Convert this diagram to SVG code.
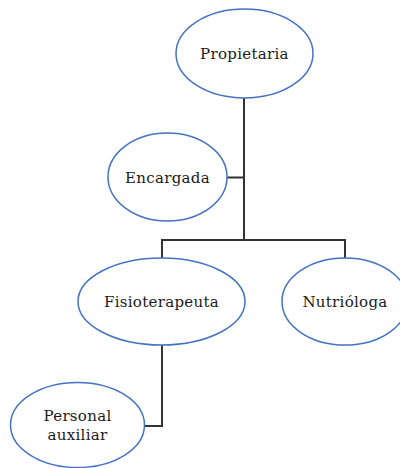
<svg xmlns="http://www.w3.org/2000/svg" width="400" height="468" viewBox="0 0 400 468">
<style>
.n{fill:#fff;stroke:#4472c4;stroke-width:1.5}
.t{font-family:'DejaVu Serif','Liberation Serif',serif;font-size:15px;fill:#1a1a1a;text-anchor:middle;letter-spacing:0.3px}
.c{fill:none;stroke:#333;stroke-width:2}
</style>
<rect width="400" height="468" fill="#fff"/>
<g id="connectors">
<path class="c" d="M244 98V240M162 258V240H345V258M227 177.5H244M162 345V426H144"/>
</g>
<g id="propietaria"><ellipse class="n" cx="244.5" cy="53.5" rx="68.5" ry="44.5"/><text class="t" x="244.5" y="59">Propietaria</text></g>
<g id="encargada"><ellipse class="n" cx="167.5" cy="177" rx="59.5" ry="44"/><text class="t" x="167.5" y="183">Encargada</text></g>
<g id="fisioterapeuta"><ellipse class="n" cx="161.5" cy="301.5" rx="83.5" ry="43.5"/><text class="t" x="161.5" y="307">Fisioterapeuta</text></g>
<g id="nutriologa"><ellipse class="n" cx="345" cy="301.5" rx="63" ry="43.5"/><text class="t" x="345" y="307">Nutrióloga</text></g>
<g id="personal"><ellipse class="n" cx="77.5" cy="425" rx="67" ry="42.5"/><text class="t" x="77.5" y="421">Personal</text><text class="t" x="77.5" y="440">auxiliar</text></g>
</svg>
